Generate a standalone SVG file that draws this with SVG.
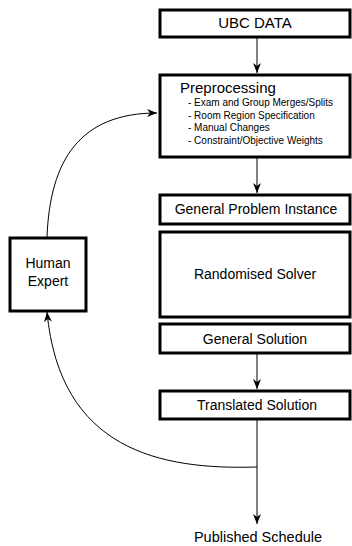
<svg xmlns="http://www.w3.org/2000/svg" width="352" height="546" viewBox="0 0 352 546">
<style>
.box{fill:#fff;stroke:#000;stroke-width:3}
.t{font-family:"Liberation Sans",Arial,sans-serif;font-size:14px;fill:#000;text-anchor:middle}
.s{font-family:"Liberation Sans",Arial,sans-serif;font-size:10px;fill:#000}
.c{fill:none;stroke:#000;stroke-width:1}
</style>
<defs>
<marker id="ah" viewBox="0 0 10 10" refX="10" refY="5" markerWidth="10" markerHeight="10" markerUnits="userSpaceOnUse" orient="auto">
<path d="M0,1 L10,5 L0,9 L3,5 Z" fill="#000"/>
</marker>
</defs>
<rect width="352" height="546" fill="#fff"/>
<g id="connectors">
<line class="c" x1="257" y1="37" x2="257" y2="73" marker-end="url(#ah)"/>
<line class="c" x1="257" y1="157" x2="257" y2="193" marker-end="url(#ah)"/>
<line class="c" x1="257" y1="353" x2="257" y2="389" marker-end="url(#ah)"/>
<line class="c" x1="257" y1="419" x2="257" y2="524" marker-end="url(#ah)"/>
<path class="c" d="M47,237 C50,160 80,113 157,113" marker-end="url(#ah)"/>
<path class="c" d="M257,467 C160,470 60,450 47,312" marker-end="url(#ah)"/>
</g>
<g id="ubc">
<rect class="box" x="160" y="10" width="190" height="27"/>
<text class="t" x="255" y="28" style="font-size:15px">UBC DATA</text>
</g>
<g id="preprocessing">
<rect class="box" x="160" y="75" width="190" height="82"/>
<text class="t" x="180" y="93" style="text-anchor:start;font-size:15px">Preprocessing</text>
<text class="s" x="188" y="106">- Exam and Group Merges/Splits</text>
<text class="s" x="188" y="119">- Room Region Specification</text>
<text class="s" x="188" y="131">- Manual Changes</text>
<text class="s" x="188" y="144">- Constraint/Objective Weights</text>
</g>
<g id="gpi">
<rect class="box" x="160" y="195" width="190" height="29"/>
<text class="t" x="256" y="214">General Problem Instance</text>
</g>
<g id="solver">
<rect class="box" x="160" y="232" width="190" height="85"/>
<text class="t" x="255" y="279">Randomised Solver</text>
</g>
<g id="gsol">
<rect class="box" x="160" y="324" width="190" height="29"/>
<text class="t" x="255" y="344">General Solution</text>
</g>
<g id="tsol">
<rect class="box" x="160" y="391" width="190" height="28"/>
<text class="t" x="257" y="410">Translated Solution</text>
</g>
<g id="human">
<rect class="box" x="10" y="238" width="76" height="73"/>
<text class="t" x="48" y="268">Human</text>
<text class="t" x="48" y="286">Expert</text>
</g>
<g id="published">
<text class="t" x="258" y="542" style="font-size:14.5px">Published Schedule</text>
</g>
</svg>
